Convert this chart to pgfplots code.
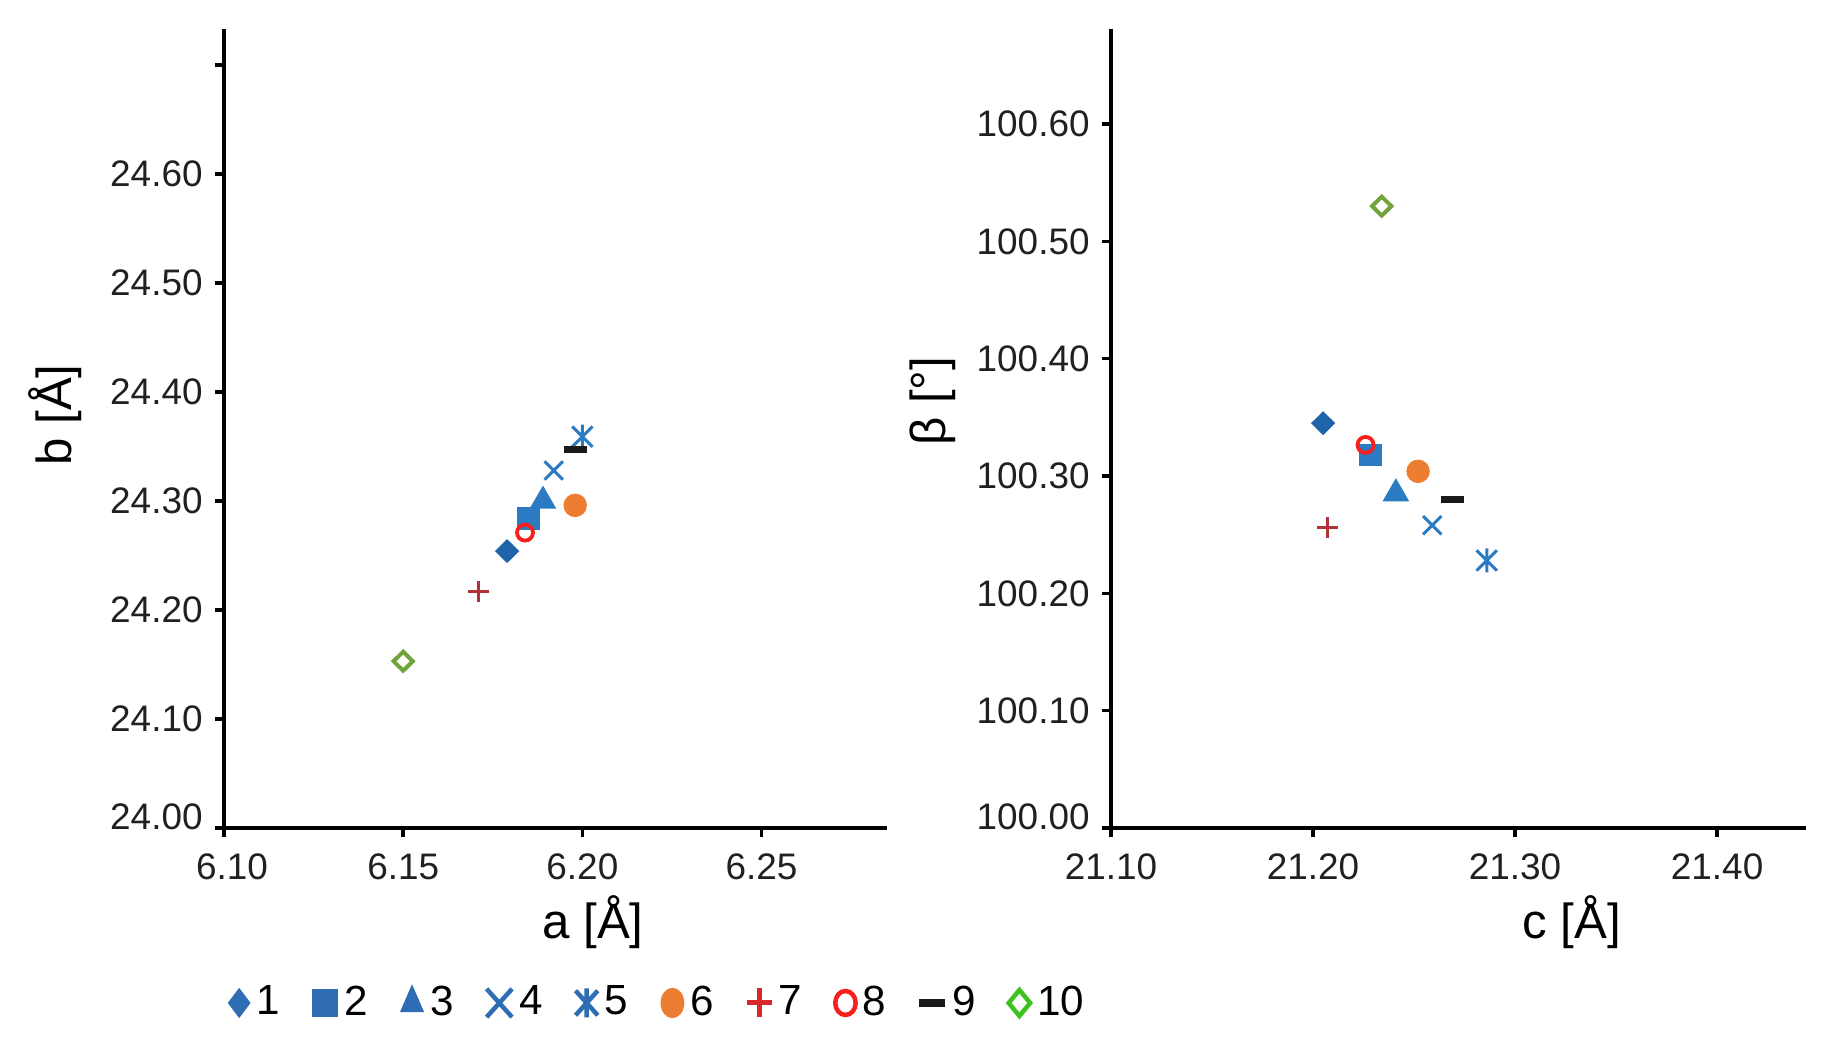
\documentclass[border=0pt]{standalone}
\usepackage{pgfplots}
\pgfplotsset{compat=1.18}
\usepackage{fontspec}
\setmainfont{Liberation Sans}

\definecolor{cBlueD}{HTML}{1F64AA}
\definecolor{cBlue}{HTML}{2B7BC2}
\definecolor{cOrange}{HTML}{ED7D31}
\definecolor{cRedDk}{HTML}{B5313A}
\definecolor{cRed}{HTML}{F5201E}
\definecolor{cBlack}{HTML}{1A1A1A}
\definecolor{cOlive}{HTML}{70A33C}
\definecolor{cGreen}{HTML}{3CC31E}
\definecolor{cLegBlue}{HTML}{2E6DB4}
\definecolor{cLegRed}{HTML}{D9262A}
\definecolor{tickgray}{HTML}{231F20}

% excel style star: x with a vertical bar
\pgfdeclareplotmark{xstar}{%
  \pgfpathmoveto{\pgfqpoint{0pt}{\pgfplotmarksize}}%
  \pgfpathlineto{\pgfqpoint{0pt}{-\pgfplotmarksize}}%
  \pgfpathmoveto{\pgfqpoint{-.85\pgfplotmarksize}{-.85\pgfplotmarksize}}%
  \pgfpathlineto{\pgfqpoint{.85\pgfplotmarksize}{.85\pgfplotmarksize}}%
  \pgfpathmoveto{\pgfqpoint{-.85\pgfplotmarksize}{.85\pgfplotmarksize}}%
  \pgfpathlineto{\pgfqpoint{.85\pgfplotmarksize}{-.85\pgfplotmarksize}}%
  \pgfusepathqstroke}

\newcommand{\up}[1]{\raisebox{1.1mm}[\height][\depth]{#1}}

\pgfplotsset{
  cellaxis/.style={
    scale only axis,
    anchor=south west,
    axis lines=left,
    axis line style={-, line width=0.35mm, black},
    tick style={line width=0.35mm, black},
    tick align=outside,
    major tick length=0.9mm,
    tick label style={font=\fontsize{10.5}{12}\selectfont, text=tickgray},
    xticklabel style={yshift=-0.4mm},
    label style={font=\fontsize{14}{16}\selectfont},
    ylabel style={anchor=center},
    xlabel style={anchor=center},
  },
  s1/.style={only marks, mark=diamond*, mark size=1.1mm, color=cBlueD, mark options={xscale=1.35}},
  s2/.style={only marks, mark=square*, mark size=1.05mm, color=cBlue},
  s3/.style={only marks, mark=triangle*, mark size=1.4mm, color=cBlue},
  s4/.style={only marks, mark=x, mark size=1.3mm, color=cBlue, line width=0.3mm},
  s5/.style={only marks, mark=xstar, mark size=1.2mm, color=cBlue, line width=0.3mm},
  s6/.style={only marks, mark=*, mark size=1.1mm, color=cOrange},
  s7/.style={only marks, mark=+, mark size=1.05mm, color=cRedDk, line width=0.3mm},
  s8/.style={only marks, mark=o, mark size=0.8mm, color=cRed, line width=0.38mm},
  s9/.style={only marks, mark=-, mark size=1.15mm, color=cBlack, line width=0.7mm},
  s10/.style={only marks, mark=diamond, mark size=0.95mm, color=cOlive, line width=0.4mm, mark options={xscale=1.35}},
}

\begin{document}
\begin{tikzpicture}
\path[use as bounding box] (0,0) rectangle (184.3mm,-106mm);

% a vs b
\begin{axis}[
  cellaxis,
  at={(22.4mm,-82.8mm)},
  width=66.3mm, height=79.9mm,
  xmin=6.10, xmax=6.285, ymin=24.00, ymax=24.733,
  xtick={6.10,6.15,6.20,6.25},
  xticklabels={\hspace*{1.6mm}6.10,6.15,6.20,6.25},
  ytick={24.0,24.1,24.2,24.3,24.4,24.5,24.6,24.7},
  yticklabels={\up{24.00},24.10,24.20,24.30,24.40,24.50,24.60,},
  xlabel={a [Å]}, ylabel={b [Å]},
  xlabel style={at={(axis description cs:0.5566,-0.1176)}},
  ylabel style={at={(axis description cs:-0.255,0.517)}},
  legend columns=10,
  legend image code/.code={\draw[#1] plot coordinates {(0cm,0cm)};},
  legend style={at={(axis description cs:0.006,-0.219)}, anchor=west,
    draw=none, fill=none, inner sep=0pt,
    font=\fontsize{12}{14}\selectfont,
    /tikz/every even column/.append style={column sep=2.6mm}},
]
\addplot[s1, forget plot] coordinates {(6.179,24.254)};
\addplot[s2, forget plot] coordinates {(6.185,24.284)};
\addplot[s3, forget plot] coordinates {(6.189,24.300)};
\addplot[s4, forget plot] coordinates {(6.192,24.328)};
\addplot[s5, forget plot] coordinates {(6.200,24.359)};
\addplot[s6, forget plot] coordinates {(6.198,24.296)};
\addplot[s7, forget plot] coordinates {(6.171,24.217)};
\addplot[s8, forget plot] coordinates {(6.184,24.271)};
\addplot[s9, forget plot] coordinates {(6.198,24.347)};
\addplot[s10, forget plot] coordinates {(6.150,24.153)};

\addlegendimage{mark=diamond*, mark size=1.4mm, color=cLegBlue}
\addlegendentry{1}
\addlegendimage{mark=square*, mark size=1.35mm, color=cLegBlue, mark options={xscale=0.9}}
\addlegendentry{2}
\addlegendimage{mark=triangle*, mark size=1.7mm, color=cLegBlue, mark options={xscale=0.75}}
\addlegendentry{3}
\addlegendimage{mark=x, mark size=2.0mm, color=cLegBlue, line width=0.45mm, mark options={xscale=0.9}}
\addlegendentry{4}
\addlegendimage{mark=xstar, mark size=1.45mm, color=cLegBlue, line width=0.45mm, mark options={xscale=0.9}}
\addlegendentry{5}
\addlegendimage{mark=*, mark size=1.45mm, color=cOrange, mark options={xscale=0.77}}
\addlegendentry{6}
\addlegendimage{mark=+, mark size=1.45mm, color=cLegRed, line width=0.5mm, mark options={xscale=0.85}}
\addlegendentry{7}
\addlegendimage{mark=o, mark size=1.2mm, color=cRed, line width=0.45mm, mark options={xscale=0.85}}
\addlegendentry{8}
\addlegendimage{mark=-, mark size=1.3mm, color=cBlack, line width=0.85mm}
\addlegendentry{9}
\addlegendimage{mark=diamond, mark size=1.3mm, color=cGreen, line width=0.45mm, mark options={xscale=1.1}}
\addlegendentry{10}
\end{axis}

% c vs beta
\begin{axis}[
  cellaxis,
  at={(111.1mm,-82.8mm)},
  width=69.5mm, height=79.9mm,
  xmin=21.10, xmax=21.444, ymin=100.00, ymax=100.681,
  xtick={21.1,21.2,21.3,21.4},
  xticklabels={21.10,21.20,21.30,21.40},
  ytick={100.0,100.1,100.2,100.3,100.4,100.5,100.6},
  yticklabels={\up{100.00},100.10,100.20,100.30,100.40,100.50,100.60},
  xlabel={c [Å]}, ylabel={β [°]},
  xlabel style={at={(axis description cs:0.663,-0.1176)}},
  ylabel style={at={(axis description cs:-0.257,0.534)}},
]
\addplot[s1] coordinates {(21.205,100.345)};
\addplot[s2] coordinates {(21.2285,100.318)};
\addplot[s3] coordinates {(21.241,100.285)};
\addplot[s4] coordinates {(21.259,100.258)};
\addplot[s5] coordinates {(21.286,100.228)};
\addplot[s6] coordinates {(21.252,100.304)};
\addplot[s7] coordinates {(21.207,100.256)};
\addplot[s8] coordinates {(21.226,100.3265)};
\addplot[s9] coordinates {(21.269,100.280)};
\addplot[s10] coordinates {(21.234,100.530)};
\end{axis}
\end{tikzpicture}
\end{document}
